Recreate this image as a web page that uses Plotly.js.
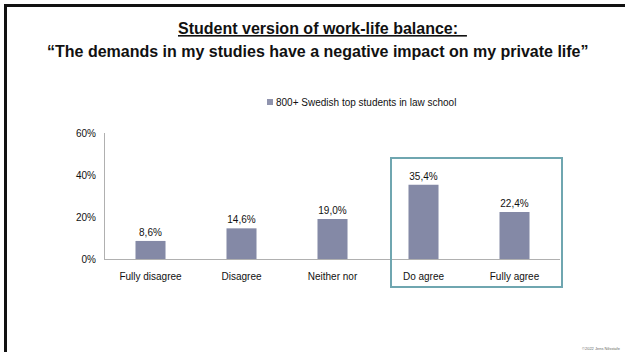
<!DOCTYPE html>
<html>
<head>
<meta charset="utf-8">
<script src="https://cdn.plot.ly/plotly-3.0.1.min.js"></script>
<style>html,body{margin:0;padding:0;background:#fff;}#chart{width:625px;height:352px;}</style>
</head>
<body>
<div id="chart"></div>
<script>
// ---- data ----
const categories = ["Fully disagree", "Disagree", "Neither nor", "Do agree", "Fully agree"];
const values = [8.6, 14.6, 19.0, 35.4, 22.4];
const valueLabels = ["8,6%", "14,6%", "19,0%", "35,4%", "22,4%"];
const seriesName = "800+ Swedish top students in law school";
const yTickVals = [0, 20, 40, 60];
const yTickText = ["0%", "20%", "40%", "60%"];
const titleLine1 = "Student version of work-life balance:  ";
const titleLine2 = "\u201CThe demands in my studies have a negative impact on my private life\u201D";
const credit = "\u00A92022 Jens Nilsstafe";

// ---- layout geometry (pixels) ----
const W = 625, H = 352;
const M = {l: 105, r: 65, t: 133, b: 93};
const pw = W - M.l - M.r, ph = H - M.t - M.b;
const px = x => (x - M.l) / pw;
const py = y => (H - M.b - y) / ph;

const FONT = "Liberation Sans, Arial, sans-serif";
const barColor = "#8489a6";

const trace = {
  type: "bar",
  x: categories,
  y: values,
  name: seriesName,
  text: valueLabels,
  textposition: "outside",
  textfont: {family: FONT, size: 10, color: "#111"},
  marker: {color: barColor},
  width: 0.33,
  cliponaxis: false,
  hoverinfo: "none"
};

const layout = {
  width: W, height: H,
  margin: M,
  paper_bgcolor: "#fff",
  plot_bgcolor: "#fff",
  showlegend: false,
  font: {family: FONT, size: 10, color: "#111"},
  xaxis: {
    type: "category",
    showline: true, linecolor: "#b0b0b0", linewidth: 1,
    showgrid: false, zeroline: false,
    ticks: "outside", ticklen: 8, tickcolor: "rgba(0,0,0,0)",
    tickfont: {family: FONT, size: 10, color: "#111"},
    fixedrange: true
  },
  yaxis: {
    range: [0, 60],
    tickvals: yTickVals, ticktext: yTickText,
    showline: true, linecolor: "#b0b0b0", linewidth: 1,
    showgrid: false, zeroline: false,
    ticks: "outside", ticklen: 6, tickcolor: "rgba(0,0,0,0)",
    tickfont: {family: FONT, size: 10, color: "#111"},
    fixedrange: true
  },
  shapes: [
    // slide frame (left & top)
    {type: "line", xref: "paper", yref: "paper", x0: px(5.5), x1: px(5.5), y0: py(4), y1: py(352), line: {color: "#111", width: 3}},
    {type: "line", xref: "paper", yref: "paper", x0: px(4), x1: px(625), y0: py(5.5), y1: py(5.5), line: {color: "#111", width: 3}},
    // highlight box
    {type: "rect", xref: "paper", yref: "paper", x0: px(391), x1: px(562), y0: py(287), y1: py(158), line: {color: "#6fa6b0", width: 2}, fillcolor: "rgba(0,0,0,0)"},
    // legend swatch
    {type: "rect", xref: "paper", yref: "paper", x0: px(267), x1: px(273), y0: py(105), y1: py(99), line: {width: 0}, fillcolor: "#9094ae"}
  ],
  annotations: [
    {xref: "paper", yref: "paper", x: px(322), y: py(28), xanchor: "center", yanchor: "middle", showarrow: false,
     text: '<b><span style="text-decoration:underline">' + titleLine1 + '</span></b>',
     font: {family: FONT, size: 16, color: "#111"}},
    {xref: "paper", yref: "paper", x: px(318), y: py(51), xanchor: "center", yanchor: "middle", showarrow: false,
     text: "<b>" + titleLine2 + "</b>",
     font: {family: FONT, size: 16, color: "#111"}},
    {xref: "paper", yref: "paper", x: px(274), y: py(102), xanchor: "left", yanchor: "middle", showarrow: false,
     text: seriesName, font: {family: FONT, size: 10, color: "#111"}},
    {xref: "paper", yref: "paper", x: px(623), y: py(348), xanchor: "right", yanchor: "middle", showarrow: false,
     text: credit, font: {family: FONT, size: 4, color: "#666"}}
  ]
};

Plotly.newPlot("chart", [trace], layout, {displayModeBar: false, staticPlot: true});
</script>
</body>
</html>
